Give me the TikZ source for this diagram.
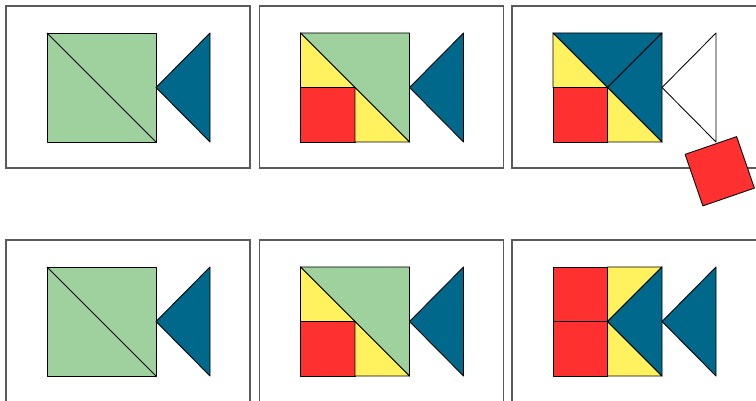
\documentclass[tikz,border=0pt]{standalone}
\usepackage{tikz}
\definecolor{leafgreen}{RGB}{158,209,158}
\definecolor{deepblue}{RGB}{0,104,139}
\definecolor{sunyellow}{RGB}{255,242,94}
\definecolor{brightred}{RGB}{255,48,48}
\definecolor{framegray}{RGB}{90,90,90}
\tikzset{
  piece/.style={draw=black, line width=0.85pt, line join=round},
  panelbox/.style={draw=framegray, line width=1.1pt},
}
% corner points of the square and the tail, inside one panel
\newcommand{\setpoints}{%
  \coordinate (TL) at (47,33);   \coordinate (TR) at (156,33);
  \coordinate (BL) at (47,142);  \coordinate (BR) at (156,142);
  \coordinate (C)  at (101.5,87.5);
  \coordinate (ML) at (47,87.5); \coordinate (MT) at (101.5,33);
  \coordinate (MB) at (101.5,142);
  \coordinate (tip) at (156,87.5);
  \coordinate (tailtop) at (210,33); \coordinate (tailbot) at (210,142);
}
\begin{document}
\begin{tikzpicture}[x=1pt, y=-1pt]
  \clip (0,0) rectangle (756,401);
  \foreach \dy in {0,234} {
    % first panel: whole square
    \begin{scope}[yshift=-\dy pt]
      \setpoints
      \draw[panelbox] (6,6) rectangle (250,168);
      \draw[piece, fill=leafgreen] (TL) rectangle (BR);
      \draw[piece] (TL) -- (BR);
      \draw[piece, fill=deepblue] (tip) -- (tailtop) -- (tailbot) -- cycle;
    \end{scope}
    % second panel: lower half cut up
    \begin{scope}[xshift=253.5pt, yshift=-\dy pt]
      \setpoints
      \draw[panelbox] (6,6) rectangle (250,168);
      \draw[piece, fill=leafgreen] (TL) -- (TR) -- (BR) -- cycle;
      \draw[piece, fill=sunyellow] (TL) -- (ML) -- (C) -- cycle;
      \draw[piece, fill=brightred] (ML) rectangle (MB);
      \draw[piece, fill=sunyellow] (C) -- (MB) -- (BR) -- cycle;
      \draw[piece, fill=deepblue] (tip) -- (tailtop) -- (tailbot) -- cycle;
    \end{scope}
  }
  % third panel, top row
  \begin{scope}[xshift=506pt]
    \setpoints
    \draw[panelbox] (6,6) rectangle (252,168);
    \draw[piece, fill=deepblue] (TL) -- (TR) -- (C) -- cycle;
    \draw[piece, fill=deepblue] (TR) -- (BR) -- (C) -- cycle;
    \draw[piece, fill=sunyellow] (TL) -- (ML) -- (C) -- cycle;
    \draw[piece, fill=brightred] (ML) rectangle (MB);
    \draw[piece, fill=sunyellow] (C) -- (MB) -- (BR) -- cycle;
    \draw[piece, fill=white] (tip) -- (tailtop) -- (tailbot) -- cycle;
  \end{scope}
  % loose red square
  \draw[piece, fill=brightred, shift={(719.75,171.25)}, rotate=19]
    (-27.25,-27.25) rectangle (27.25,27.25);
  % third panel, bottom row
  \begin{scope}[xshift=506pt, yshift=-234pt]
    \setpoints
    \draw[panelbox] (6,6) rectangle (252,168);
    \draw[piece, fill=brightred] (TL) rectangle (C);
    \draw[piece, fill=brightred] (ML) rectangle (MB);
    \draw[piece, fill=sunyellow] (MT) -- (TR) -- (C) -- cycle;
    \draw[piece, fill=sunyellow] (C) -- (MB) -- (BR) -- cycle;
    \draw[piece, fill=deepblue] (C) -- (TR) -- (BR) -- cycle;
    \draw[piece, fill=deepblue] (tip) -- (tailtop) -- (tailbot) -- cycle;
  \end{scope}
\end{tikzpicture}
\end{document}
